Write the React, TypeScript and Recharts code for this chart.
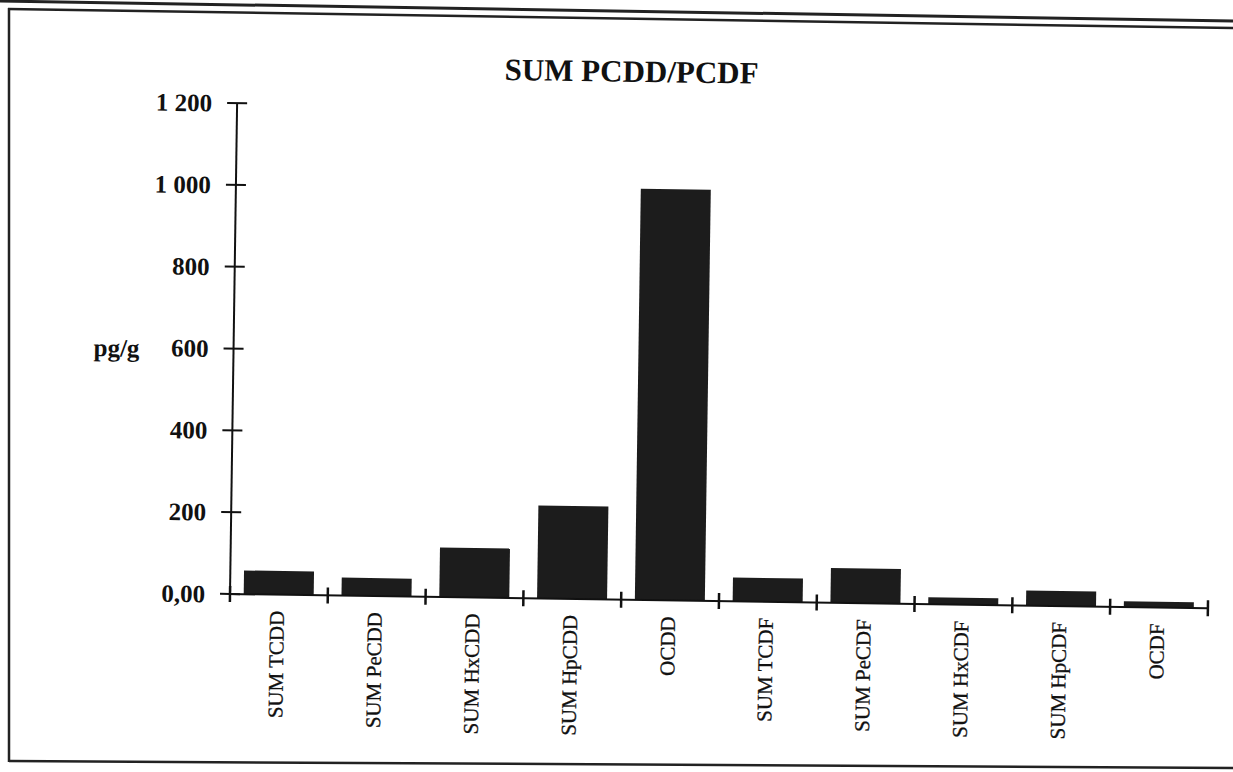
import React from 'react';
import { BarChart, Bar, XAxis, YAxis } from 'recharts';

const categories = ['SUM TCDD', 'SUM PeCDD', 'SUM HxCDD', 'SUM HpCDD', 'OCDD', 'SUM TCDF', 'SUM PeCDF', 'SUM HxCDF', 'SUM HpCDF', 'OCDF'];
const values = [58, 44, 121, 227, 1005, 58, 85, 17, 37, 14];
const yTicks = [0, 200, 400, 600, 800, 1000, 1200];
const yTickLabels = ['0,00', '200', '400', '600', '800', '1 000', '1 200'];
const boundaryTicks = [0, 1, 2, 3, 4, 5, 6, 7, 8, 9, 10];
const title = 'SUM PCDD/PCDF';
const unitLabel = 'pg/g';

const data = categories.map((name, i) => ({ name, value: values[i], pos: i + 0.5 }));

const FONT = '"Liberation Serif", "DejaVu Serif", serif';

const YTick = (props: any) => {
  const { x, y, payload } = props;
  const idx = yTicks.indexOf(payload.value);
  const label = idx >= 0 ? yTickLabels[idx] : String(payload.value);
  return (
    <g>
      <line x1={x - 10} x2={x + 10} y1={y} y2={y} stroke="#111" strokeWidth={2} />
      <text x={x - 25} y={y} dy="0.35em" textAnchor="end" fontFamily={FONT} fontWeight="bold" fontSize={25} fill="#111">
        {label}
      </text>
    </g>
  );
};

const XTick = (props: any) => {
  const { x, y, payload } = props;
  const ty = y + 16;
  return (
    <text x={x} y={ty} dy="0.25em" textAnchor="end" transform={`rotate(-90, ${x}, ${ty})`} fontFamily={FONT} fontSize={21} fill="#111" stroke="#111" strokeWidth={0.3}>
      {payload.value}
    </text>
  );
};

const EdgeTick = (props: any) => {
  const { x, y } = props;
  return <line x1={x} x2={x} y1={y - 9} y2={y + 7} stroke="#111" strokeWidth={2.5} />;
};

export default function App() {
  return (
    <div style={{ position: 'fixed', left: 0, top: 0, width: 1233, height: 772, overflow: 'hidden', background: '#fff' }}>
      <svg width={1233} height={772} style={{ position: 'absolute', left: 0, top: 0 }}>
        <line x1={0} y1={1} x2={1233} y2={21} stroke="#222" strokeWidth={3} />
        <line x1={8} y1={9} x2={1233} y2={28} stroke="#222" strokeWidth={2.5} />
        <line x1={9} y1={8} x2={9} y2={762} stroke="#222" strokeWidth={2.5} />
        <line x1={9} y1={761} x2={1233} y2={768} stroke="#222" strokeWidth={2.5} />
      </svg>
      <div
        style={{
          position: 'absolute',
          left: 0,
          top: 0,
          width: 1233,
          height: 772,
          transform: 'rotate(0.83deg)',
          transformOrigin: '230px 594px',
        }}
      >
        <BarChart
          width={1233}
          height={772}
          data={data}
          margin={{ top: 103, left: 229, right: 25, bottom: 176 }}
          barCategoryGap="14%"
        >
          <XAxis
            dataKey="name"
            xAxisId={0}
            height={1}
            interval={0}
            tickSize={0}
            tickMargin={0}
            tickLine={false}
            axisLine={{ stroke: '#111', strokeWidth: 2 }}
            tick={<XTick />}
          />
          <XAxis
            xAxisId="edges"
            type="number"
            dataKey="pos"
            domain={[0, 10]}
            allowDataOverflow
            ticks={boundaryTicks}
            interval={0}
            height={1}
            tickSize={0}
            tickMargin={0}
            tickLine={false}
            axisLine={false}
            tick={<EdgeTick />}
          />
          <YAxis
            width={1}
            domain={[0, 1200]}
            ticks={yTicks}
            interval={0}
            tickSize={0}
            tickMargin={0}
            tickLine={false}
            axisLine={{ stroke: '#111', strokeWidth: 2 }}
            tick={<YTick />}
          />
          <Bar dataKey="value" xAxisId={0} fill="#1c1c1c" isAnimationActive={false} />
        </BarChart>
        <svg width={1233} height={772} style={{ position: 'absolute', left: 0, top: 0, pointerEvents: 'none' }}>
          <text x={624} y={76} textAnchor="middle" fontFamily={FONT} fontWeight="bold" fontSize={31} fill="#111">
            {title}
          </text>
          <text x={113} y={358} textAnchor="middle" fontFamily={FONT} fontWeight="bold" fontSize={25} fill="#111">
            {unitLabel}
          </text>
        </svg>
      </div>
    </div>
  );
}
